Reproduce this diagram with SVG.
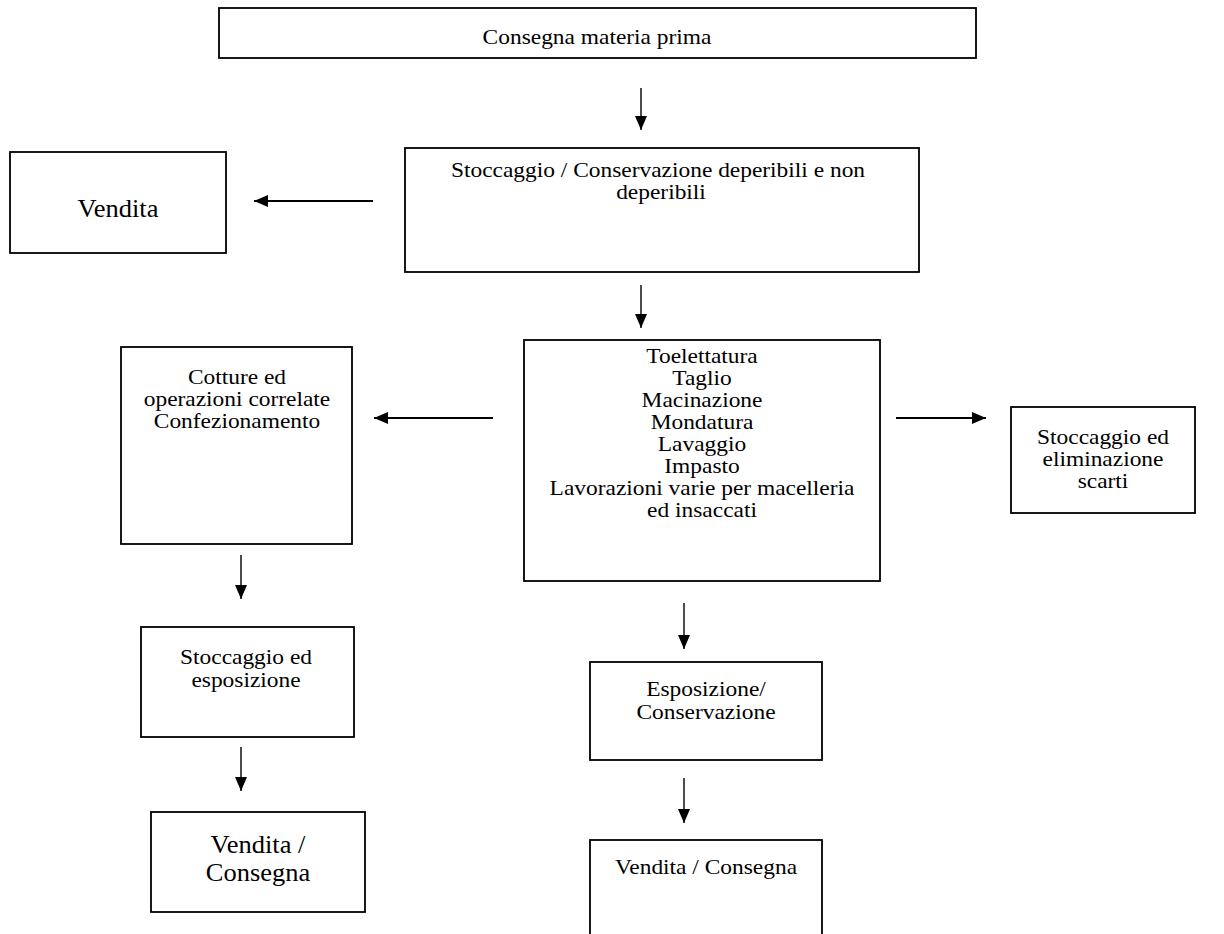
<svg xmlns="http://www.w3.org/2000/svg" width="1224" height="934" viewBox="0 0 1224 934">
<style>
.box{fill:#fff;stroke:#000;stroke-width:1.8}
.t{font-family:"Liberation Serif","Times New Roman",serif;font-size:21px;fill:#000;text-anchor:middle}
.tl{font-family:"Liberation Serif","Times New Roman",serif;font-size:24.5px;fill:#000;text-anchor:middle}
.c{stroke:#000;stroke-width:1.4;fill:none;marker-end:url(#ah)}
</style>
<defs>
<marker id="ah" markerUnits="userSpaceOnUse" markerWidth="14" markerHeight="12" refX="14" refY="6" orient="auto">
<path d="M0,0 L14,6 L0,12 z" fill="#000"/>
</marker>
</defs>
<rect width="1224" height="934" fill="#fff"/>
<g id="connectors">
<line class="c" x1="641" y1="88" x2="641" y2="130"/>
<line class="c" x1="373" y1="201" x2="254" y2="201" style="stroke-width:2"/>
<line class="c" x1="641" y1="285" x2="641" y2="328"/>
<line class="c" x1="493" y1="418" x2="374" y2="418" style="stroke-width:2"/>
<line class="c" x1="896" y1="418" x2="986" y2="418" style="stroke-width:2"/>
<line class="c" x1="241" y1="555" x2="241" y2="599"/>
<line class="c" x1="241" y1="747" x2="241" y2="791"/>
<line class="c" x1="684" y1="603" x2="684" y2="649"/>
<line class="c" x1="684" y1="778" x2="684" y2="823"/>
</g>
<g id="n1"><rect class="box" x="219" y="8" width="757" height="50"/>
<text class="t" transform="translate(597,44) scale(1.115,1)">Consegna materia prima</text></g>
<g id="n2"><rect class="box" x="405" y="148" width="514" height="124"/>
<text class="t" transform="translate(658,177) scale(1.115,1)">Stoccaggio / Conservazione deperibili e non</text>
<text class="t" transform="translate(661,199) scale(1.115,1)">deperibili</text></g>
<g id="n3"><rect class="box" x="10" y="152" width="216" height="101"/>
<text class="tl" transform="translate(118,217) scale(1.08,1)">Vendita</text></g>
<g id="n4"><rect class="box" x="524" y="340" width="356" height="241"/>
<text class="t" transform="translate(702,363) scale(1.115,1)">Toelettatura</text>
<text class="t" transform="translate(702,385) scale(1.115,1)">Taglio</text>
<text class="t" transform="translate(702,407) scale(1.115,1)">Macinazione</text>
<text class="t" transform="translate(702,429) scale(1.115,1)">Mondatura</text>
<text class="t" transform="translate(702,451) scale(1.115,1)">Lavaggio</text>
<text class="t" transform="translate(702,473) scale(1.115,1)">Impasto</text>
<text class="t" transform="translate(702,495) scale(1.115,1)">Lavorazioni varie per macelleria</text>
<text class="t" transform="translate(702,517) scale(1.115,1)">ed insaccati</text></g>
<g id="n5"><rect class="box" x="121" y="347" width="231" height="197"/>
<text class="t" transform="translate(237,384) scale(1.115,1)">Cotture ed</text>
<text class="t" transform="translate(237,406) scale(1.115,1)">operazioni correlate</text>
<text class="t" transform="translate(237,428) scale(1.115,1)">Confezionamento</text></g>
<g id="n6"><rect class="box" x="1011" y="407" width="184" height="106"/>
<text class="t" transform="translate(1103,444) scale(1.115,1)">Stoccaggio ed</text>
<text class="t" transform="translate(1103,466) scale(1.115,1)">eliminazione</text>
<text class="t" transform="translate(1103,488) scale(1.115,1)">scarti</text></g>
<g id="n7"><rect class="box" x="141" y="627" width="213" height="110"/>
<text class="t" transform="translate(246,664) scale(1.115,1)">Stoccaggio ed</text>
<text class="t" transform="translate(246,687) scale(1.115,1)">esposizione</text></g>
<g id="n8"><rect class="box" x="151" y="812" width="214" height="100"/>
<text class="tl" transform="translate(258,853) scale(1.08,1)">Vendita /</text>
<text class="tl" transform="translate(258,881) scale(1.08,1)">Consegna</text></g>
<g id="n9"><rect class="box" x="590" y="662" width="232" height="98"/>
<text class="t" transform="translate(706,696) scale(1.115,1)">Esposizione/</text>
<text class="t" transform="translate(706,719) scale(1.115,1)">Conservazione</text></g>
<g id="n10"><rect class="box" x="590" y="840" width="232" height="110"/>
<text class="t" transform="translate(706,874) scale(1.115,1)">Vendita / Consegna</text></g>
</svg>
